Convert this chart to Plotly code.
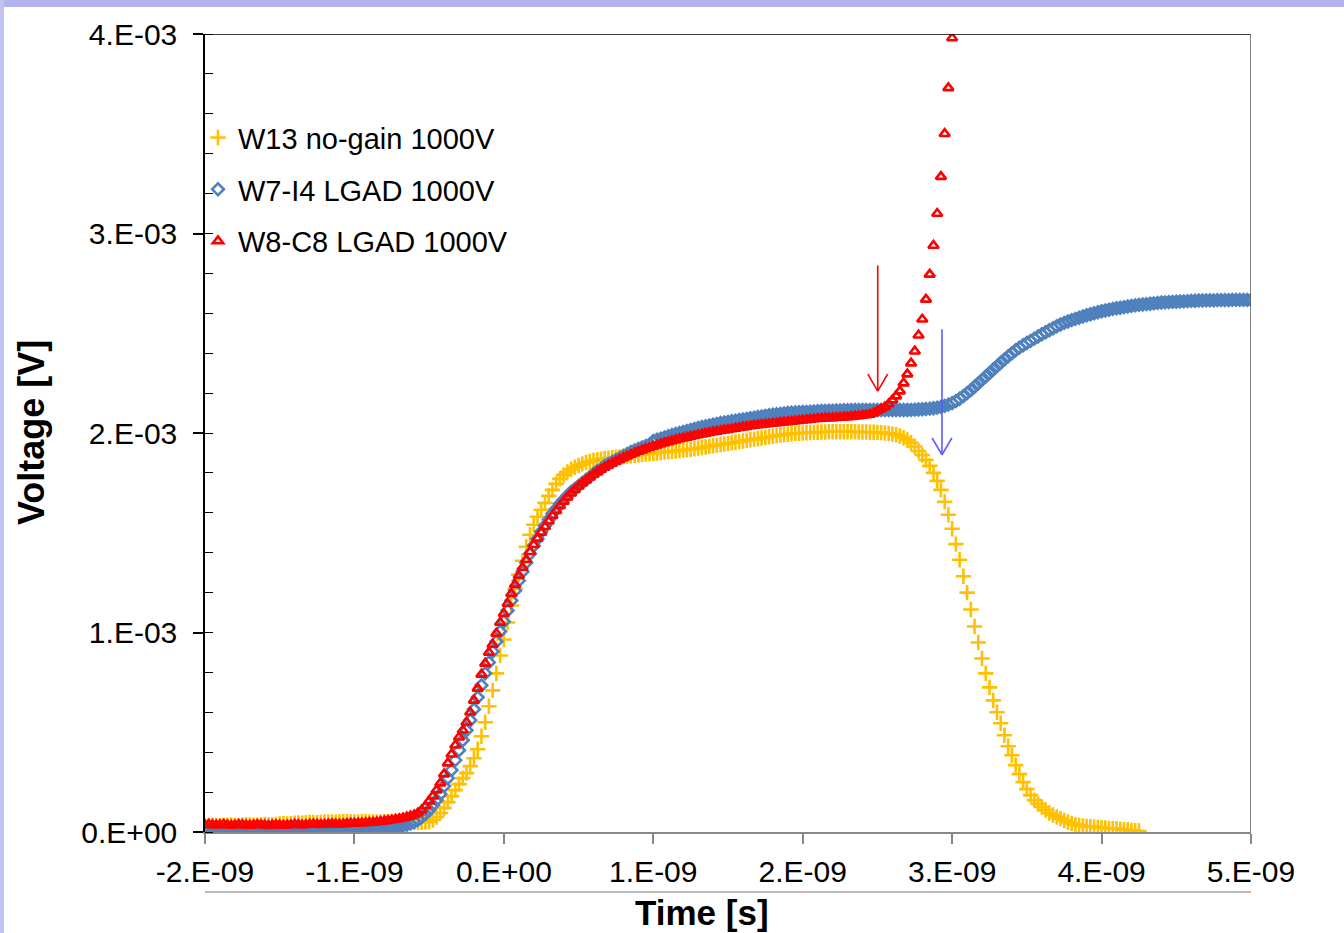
import plotly.graph_objects as go

# ---------------- data (time grid: 25 ps sampling, values in mV) ----------------
T0_NS = -2.0
DT_NS = 0.025

w13_mV = [
    0.030, 0.032, 0.034, 0.033, 0.031, 0.032, 0.034, 0.035, 0.033, 0.032,
    0.034, 0.036, 0.035, 0.033, 0.034, 0.036, 0.038, 0.037, 0.036, 0.038,
    0.040, 0.041, 0.040, 0.042, 0.044, 0.045, 0.044, 0.046, 0.048, 0.048,
    0.047, 0.048, 0.050, 0.051, 0.050, 0.049, 0.050, 0.052, 0.052, 0.051,
    0.050, 0.051, 0.052, 0.052, 0.051, 0.050, 0.050, 0.051, 0.052, 0.052,
    0.051, 0.050, 0.050, 0.049, 0.049, 0.048, 0.048, 0.048, 0.049, 0.050,
    0.052, 0.060, 0.075, 0.095, 0.120, 0.150, 0.180, 0.210, 0.240, 0.270,
    0.295, 0.330, 0.370, 0.415, 0.480, 0.550, 0.630, 0.710, 0.795, 0.885,
    0.965, 1.050, 1.135, 1.220, 1.290, 1.360, 1.430, 1.490, 1.540, 1.580,
    1.615, 1.650, 1.685, 1.715, 1.745, 1.770, 1.790, 1.805, 1.818, 1.828,
    1.837, 1.845, 1.852, 1.857, 1.862, 1.866, 1.869, 1.872, 1.874, 1.876,
    1.878, 1.880, 1.882, 1.884, 1.886, 1.888, 1.890, 1.892, 1.894, 1.896,
    1.898, 1.900, 1.902, 1.904, 1.906, 1.908, 1.910, 1.912, 1.914, 1.916,
    1.918, 1.921, 1.924, 1.927, 1.930, 1.933, 1.936, 1.939, 1.942, 1.945,
    1.948, 1.951, 1.954, 1.957, 1.960, 1.963, 1.966, 1.969, 1.972, 1.975,
    1.978, 1.981, 1.984, 1.987, 1.990, 1.992, 1.994, 1.996, 1.998, 1.999,
    2.000, 2.001, 2.002, 2.003, 2.004, 2.005, 2.005, 2.006, 2.006, 2.006,
    2.006, 2.006, 2.006, 2.006, 2.006, 2.005, 2.005, 2.005, 2.004, 2.004,
    2.003, 2.002, 2.000, 1.998, 1.995, 1.991, 1.985, 1.976, 1.965, 1.951,
    1.932, 1.910, 1.890, 1.865, 1.835, 1.800, 1.760, 1.715, 1.655, 1.590,
    1.520, 1.443, 1.365, 1.282, 1.200, 1.115, 1.030, 0.950, 0.870, 0.795,
    0.725, 0.660, 0.600, 0.545, 0.485, 0.430, 0.385, 0.335, 0.290, 0.250,
    0.215, 0.185, 0.160, 0.140, 0.125, 0.110, 0.095, 0.085, 0.075, 0.067,
    0.058, 0.050, 0.043, 0.037, 0.033, 0.030, 0.028, 0.027, 0.025, 0.023,
    0.022, 0.020, 0.018, 0.017, 0.016, 0.014, 0.012, 0.010, 0.008, 0.006,
    0.005,
]

w7_i4_mV = [
    0.010, 0.008, 0.006, 0.005, 0.006, 0.008, 0.010, 0.008, 0.006, 0.005,
    0.005, 0.006, 0.008, 0.010, 0.010, 0.008, 0.006, 0.008, 0.010, 0.010,
    0.010, 0.010, 0.012, 0.012, 0.010, 0.008, 0.008, 0.010, 0.012, 0.012,
    0.012, 0.012, 0.010, 0.010, 0.012, 0.014, 0.014, 0.012, 0.012, 0.014,
    0.015, 0.015, 0.016, 0.016, 0.017, 0.018, 0.018, 0.019, 0.020, 0.022,
    0.024, 0.026, 0.029, 0.032, 0.036, 0.042, 0.050, 0.060, 0.075, 0.090,
    0.110, 0.135, 0.160, 0.190, 0.230, 0.270, 0.310, 0.360, 0.410, 0.460,
    0.510, 0.560, 0.615, 0.675, 0.735, 0.795, 0.850, 0.905, 0.955, 1.005,
    1.055, 1.110, 1.160, 1.210, 1.260, 1.305, 1.350, 1.395, 1.435, 1.470,
    1.505, 1.535, 1.565, 1.595, 1.620, 1.645, 1.665, 1.685, 1.705, 1.720,
    1.735, 1.750, 1.765, 1.780, 1.795, 1.810, 1.820, 1.835, 1.845, 1.855,
    1.865, 1.875, 1.885, 1.895, 1.905, 1.912, 1.920, 1.928, 1.935, 1.942,
    1.960, 1.966, 1.972, 1.978, 1.984, 1.990, 1.995, 2.000, 2.005, 2.010,
    2.015, 2.020, 2.025, 2.030, 2.034, 2.038, 2.042, 2.046, 2.050, 2.053,
    2.056, 2.059, 2.062, 2.065, 2.068, 2.071, 2.074, 2.077, 2.080, 2.083,
    2.086, 2.089, 2.092, 2.094, 2.096, 2.098, 2.100, 2.102, 2.103, 2.104,
    2.105, 2.106, 2.107, 2.108, 2.109, 2.110, 2.111, 2.112, 2.112, 2.113,
    2.113, 2.114, 2.114, 2.115, 2.115, 2.115, 2.115, 2.115, 2.115, 2.115,
    2.115, 2.115, 2.115, 2.115, 2.115, 2.115, 2.115, 2.115, 2.115, 2.116,
    2.117, 2.118, 2.119, 2.120, 2.122, 2.124, 2.127, 2.131, 2.136, 2.142,
    2.150, 2.160, 2.172, 2.185, 2.200, 2.215, 2.232, 2.249, 2.266, 2.283,
    2.300, 2.318, 2.335, 2.352, 2.369, 2.385, 2.400, 2.415, 2.428, 2.440,
    2.451, 2.462, 2.473, 2.484, 2.495, 2.505, 2.515, 2.525, 2.535, 2.544,
    2.552, 2.559, 2.566, 2.572, 2.578, 2.584, 2.590, 2.595, 2.600, 2.605,
    2.610, 2.614, 2.618, 2.622, 2.625, 2.628, 2.631, 2.634, 2.637, 2.640,
    2.642, 2.644, 2.646, 2.648, 2.650, 2.652, 2.654, 2.655, 2.656, 2.657,
    2.658, 2.659, 2.660, 2.661, 2.662, 2.663, 2.664, 2.664, 2.665, 2.665,
    2.665, 2.666, 2.666, 2.666, 2.666, 2.667, 2.667, 2.667, 2.667, 2.667,
    2.667,
]

w8_c8_mV = [
    0.035, 0.038, 0.036, 0.034, 0.036, 0.038, 0.035, 0.033, 0.035, 0.037,
    0.036, 0.034, 0.033, 0.035, 0.037, 0.036, 0.034, 0.032, 0.034, 0.036,
    0.035, 0.033, 0.034, 0.036, 0.038, 0.037, 0.035, 0.036, 0.038, 0.039,
    0.038, 0.037, 0.038, 0.040, 0.041, 0.040, 0.039, 0.040, 0.042, 0.043,
    0.043, 0.044, 0.045, 0.046, 0.047, 0.048, 0.050, 0.052, 0.054, 0.057,
    0.060, 0.063, 0.066, 0.070, 0.074, 0.079, 0.085, 0.095, 0.110, 0.130,
    0.155, 0.180, 0.210, 0.245, 0.290, 0.345, 0.390, 0.435, 0.475, 0.510,
    0.550, 0.600, 0.660, 0.720, 0.790, 0.845, 0.900, 0.940, 0.995, 1.050,
    1.095, 1.145, 1.195, 1.240, 1.285, 1.325, 1.365, 1.405, 1.440, 1.472,
    1.502, 1.530, 1.558, 1.585, 1.610, 1.635, 1.657, 1.678, 1.698, 1.716,
    1.733, 1.749, 1.764, 1.778, 1.792, 1.805, 1.817, 1.828, 1.839, 1.849,
    1.858, 1.867, 1.876, 1.884, 1.892, 1.900, 1.907, 1.914, 1.921, 1.927,
    1.933, 1.939, 1.945, 1.950, 1.955, 1.960, 1.965, 1.970, 1.974, 1.978,
    1.982, 1.986, 1.990, 1.994, 1.998, 2.002, 2.005, 2.008, 2.011, 2.014,
    2.017, 2.020, 2.023, 2.026, 2.029, 2.032, 2.035, 2.038, 2.040, 2.042,
    2.044, 2.046, 2.048, 2.050, 2.052, 2.054, 2.056, 2.058, 2.060, 2.062,
    2.064, 2.066, 2.068, 2.070, 2.072, 2.073, 2.074, 2.075, 2.076, 2.077,
    2.078, 2.079, 2.080, 2.082, 2.084, 2.086, 2.088, 2.090, 2.093, 2.100,
    2.110, 2.120, 2.130, 2.145, 2.165, 2.185, 2.210, 2.250, 2.295, 2.350,
    2.410, 2.490, 2.570, 2.670, 2.795, 2.940, 3.100, 3.285, 3.500, 3.730,
    3.980,
]

series_names = ["W13 no-gain 1000V", "W7-I4 LGAD 1000V", "W8-C8 LGAD 1000V"]
series_mV = [w13_mV, w7_i4_mV, w8_c8_mV]

x_tick_vals = [-2e-9, -1e-9, 0.0, 1e-9, 2e-9, 3e-9, 4e-9, 5e-9]
x_tick_text = ["-2.E-09", "-1.E-09", "0.E+00", "1.E-09", "2.E-09", "3.E-09", "4.E-09", "5.E-09"]
y_tick_vals = [0.0, 1e-3, 2e-3, 3e-3, 4e-3]
y_tick_text = ["0.E+00", "1.E-03", "2.E-03", "3.E-03", "4.E-03"]

# annotation arrows (time [s], voltage [V])
red_arrow = dict(t=2.502e-9, v_top=2.84e-3, v_tip=2.21e-3, color="#FF0000")
blue_arrow = dict(t=2.932e-9, v_top=2.52e-3, v_tip=1.89e-3, color="#5A5AFF")
HEAD_DT = 0.066e-9
HEAD_DV = 0.085e-3

# ---------------- styles ----------------
FONT = "Liberation Sans, Arial, sans-serif"
styles = [
    dict(symbol="cross-thin-open", size=11, color="#FFC000", line=dict(color="#FFC000", width=2.6)),
    dict(symbol="diamond-open", size=9, color="#4F81BD", line=dict(color="#4F81BD", width=2.6)),
    dict(symbol="triangle-up-open", size=9, color="#FF0000", line=dict(color="#FF0000", width=2.6)),
]


def time_axis(n):
    return [(T0_NS + i * DT_NS) * 1e-9 for i in range(n)]


fig = go.Figure()
for i, (name, vals) in enumerate(zip(series_names, series_mV)):
    fig.add_trace(go.Scatter(
        x=time_axis(len(vals)),
        y=[v * 1e-3 for v in vals],
        mode="markers",
        name=name,
        legendgroup=f"g{i}",
        marker=styles[i],
        cliponaxis=True,
    ))

shapes = []
# frame lines (top black, right dark gray)
shapes.append(dict(type="line", xref="x", yref="y", x0=-2e-9, x1=5e-9, y0=4e-3, y1=4e-3,
                   line=dict(color="#000000", width=1.5)))
shapes.append(dict(type="line", xref="x", yref="y", x0=5e-9, x1=5e-9, y0=0, y1=4e-3,
                   line=dict(color="#595959", width=1.5)))
# extra gray rule under the tick labels
shapes.append(dict(type="line", xref="x", yref="paper", x0=-2e-9, x1=5e-9, y0=-0.0752, y1=-0.0752,
                   line=dict(color="#A6A6A6", width=1.5)))
# lavender page border strips
shapes.append(dict(type="rect", xref="paper", yref="paper", x0=-0.3, x1=1.3, y0=1.0338, y1=1.2,
                   fillcolor="#B3B3F2", line=dict(width=0), layer="below"))
shapes.append(dict(type="rect", xref="paper", yref="paper", x0=-0.3, x1=-0.1922, y0=-0.3, y1=1.2,
                   fillcolor="#C2C2F2", line=dict(width=0), layer="below"))
# arrows
for a in (red_arrow, blue_arrow):
    ln = dict(color=a["color"], width=1.6)
    shapes.append(dict(type="line", xref="x", yref="y", x0=a["t"], x1=a["t"],
                       y0=a["v_top"], y1=a["v_tip"], line=ln))
    shapes.append(dict(type="line", xref="x", yref="y", x0=a["t"] - HEAD_DT, x1=a["t"],
                       y0=a["v_tip"] + HEAD_DV, y1=a["v_tip"], line=ln))
    shapes.append(dict(type="line", xref="x", yref="y", x0=a["t"] + HEAD_DT, x1=a["t"],
                       y0=a["v_tip"] + HEAD_DV, y1=a["v_tip"], line=ln))

annotations = [
    dict(text="<b>Time [s]</b>", xref="paper", yref="paper", x=0.475, y=-0.1015,
         xanchor="center", yanchor="middle", showarrow=False,
         font=dict(family=FONT, size=35, color="#000000")),
    dict(text="<b>Voltage [V]</b>", xref="paper", yref="paper", x=-0.1663, y=0.5,
         xanchor="center", yanchor="middle", showarrow=False, textangle=-90,
         font=dict(family=FONT, size=36, color="#000000")),
]

fig.update_layout(
    width=1344, height=933,
    margin=dict(l=205, r=93, t=34, b=101, pad=0),
    paper_bgcolor="#FFFFFF",
    plot_bgcolor="#FFFFFF",
    font=dict(family=FONT, size=29, color="#000000"),
    showlegend=True,
    legend=dict(x=-0.0067, y=0.902, xanchor="left", yanchor="top",
                bgcolor="rgba(0,0,0,0)", font=dict(family=FONT, size=29, color="#000000"),
                traceorder="grouped", tracegroupgap=11, itemsizing="trace"),
    shapes=shapes,
    annotations=annotations,
    xaxis=dict(
        range=[-2e-9, 5e-9], tickmode="array", tickvals=x_tick_vals, ticktext=x_tick_text,
        showgrid=False, zeroline=False, showline=True, linecolor="#878787", linewidth=1.5,
        ticks="outside", ticklen=10, tickwidth=1.5, tickcolor="#878787",
        ticklabelstandoff=2, tickfont=dict(family=FONT, size=30, color="#000000"),
    ),
    yaxis=dict(
        range=[0, 4e-3], tickmode="array", tickvals=y_tick_vals, ticktext=y_tick_text,
        showgrid=False, zeroline=False, showline=True, linecolor="#000000", linewidth=1.5,
        ticks="outside", ticklen=10, tickwidth=1.5, tickcolor="#000000",
        ticklabelstandoff=10, tickfont=dict(family=FONT, size=30, color="#000000"),
        minor=dict(dtick=0.2e-3, tick0=0, ticks="inside", ticklen=8, tickwidth=1.2, tickcolor="#000000"),
    ),
)

fig.write_html("out.html")
